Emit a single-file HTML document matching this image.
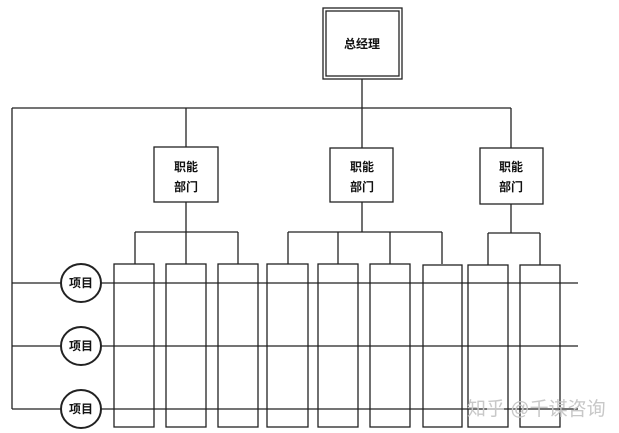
<!DOCTYPE html>
<html><head><meta charset="utf-8"><style>
html,body{margin:0;padding:0;background:#fff;}
svg{display:block;}
text{font-family:"Liberation Sans","Noto Sans CJK SC",sans-serif;font-weight:bold;fill:#111;}
</style></head><body>
<svg width="619" height="433" viewBox="0 0 619 433" xmlns="http://www.w3.org/2000/svg">
<g stroke="#222" stroke-width="1.3" fill="none">
<rect x="323" y="8" width="79" height="71"/>
<rect x="326" y="11" width="73" height="65"/>
<line x1="362" y1="79" x2="362" y2="148"/>
<line x1="12" y1="108" x2="511" y2="108"/>
<line x1="12" y1="108" x2="12" y2="409"/>
<line x1="186" y1="108" x2="186" y2="147"/>
<line x1="511" y1="108" x2="511" y2="148"/>
<rect x="154" y="147" width="64" height="55" fill="#fff"/>
<rect x="330" y="148" width="63" height="54" fill="#fff"/>
<rect x="480" y="148" width="63" height="56" fill="#fff"/>
<line x1="186" y1="202" x2="186" y2="264"/>
<line x1="135" y1="232" x2="238" y2="232"/>
<line x1="135" y1="232" x2="135" y2="264"/>
<line x1="238" y1="232" x2="238" y2="264"/>
<line x1="362" y1="202" x2="362" y2="232"/>
<line x1="288" y1="232" x2="442" y2="232"/>
<line x1="288" y1="232" x2="288" y2="264"/>
<line x1="338" y1="232" x2="338" y2="264"/>
<line x1="390" y1="232" x2="390" y2="264"/>
<line x1="442" y1="232" x2="442" y2="264"/>
<line x1="511" y1="204" x2="511" y2="233"/>
<line x1="488" y1="233" x2="540" y2="233"/>
<line x1="488" y1="233" x2="488" y2="265"/>
<line x1="540" y1="233" x2="540" y2="265"/>
<rect x="114" y="264" width="40" height="163"/>
<rect x="166" y="264" width="40" height="163"/>
<rect x="218" y="264" width="40" height="163"/>
<rect x="267" y="264" width="41" height="163"/>
<rect x="318" y="264" width="40" height="163"/>
<rect x="370" y="264" width="40" height="163"/>
<rect x="423" y="265" width="39" height="162"/>
<rect x="468" y="265" width="40" height="162"/>
<rect x="520" y="265" width="40" height="162"/>
<line x1="12" y1="283" x2="578" y2="283"/>
<line x1="12" y1="346" x2="578" y2="346"/>
<line x1="12" y1="409" x2="578" y2="409"/>
<g stroke-width="2" fill="#fff">
<ellipse cx="81" cy="283" rx="20" ry="19"/>
<ellipse cx="81" cy="346" rx="20" ry="19"/>
<ellipse cx="81" cy="409" rx="20" ry="19"/>
</g>
</g>
<g font-size="12" text-anchor="middle">
<text x="362" y="48">总经理</text>
<text x="186" y="171">职能</text><text x="186" y="191">部门</text>
<text x="362" y="171">职能</text><text x="362" y="191">部门</text>
<text x="511" y="171">职能</text><text x="511" y="191">部门</text>
<text x="81" y="287">项目</text>
<text x="81" y="350">项目</text>
<text x="81" y="413">项目</text>
</g>
<text x="467" y="415" font-size="19" style="font-weight:normal;fill:#c8c8c8">知乎 @千谋咨询</text>
</svg>
</body></html>
